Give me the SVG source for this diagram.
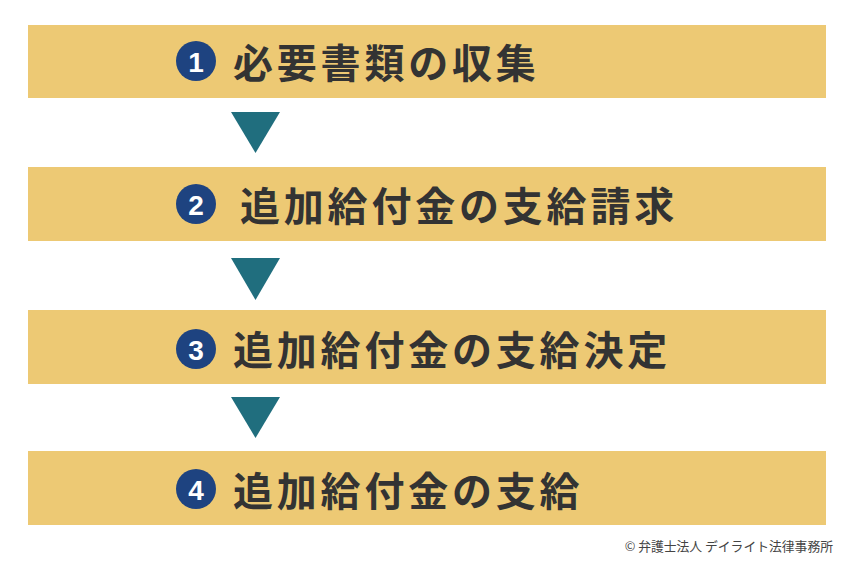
<svg xmlns="http://www.w3.org/2000/svg" width="850" height="563" viewBox="0 0 850 563">
<style>
.box{fill:#EDC974}
.num{fill:#1E4380}
.numt{fill:#fff;font-family:"Liberation Sans",Arial,sans-serif;font-weight:bold;font-size:28px;text-anchor:middle;dominant-baseline:central}
.t{fill:#333;font-family:"Noto Sans CJK JP","Noto Sans CJK SC",sans-serif;font-weight:bold;font-size:40px;letter-spacing:3.8px;dominant-baseline:central}
.arr{fill:#206E7E}
.foot{fill:#444;font-family:"Noto Sans CJK JP",sans-serif;font-size:12.8px;text-anchor:end}
</style>
<rect width="850" height="563" fill="#fff"/>
<g id="step1">
<rect class="box" x="28" y="25" width="798" height="73"/>
<circle class="num" cx="196" cy="61" r="20"/>
<text class="numt" x="196" y="62">1</text>
<text class="t" x="233" y="61">必要書類の収集</text>
</g>
<g id="step2">
<rect class="box" x="28" y="167" width="798" height="74"/>
<circle class="num" cx="196" cy="204" r="20"/>
<text class="numt" x="196" y="205">2</text>
<text class="t" x="240" y="204">追加給付金の支給請求</text>
</g>
<g id="step3">
<rect class="box" x="28" y="310" width="798" height="74"/>
<circle class="num" cx="196" cy="349" r="20"/>
<text class="numt" x="196" y="350">3</text>
<text class="t" x="233" y="348">追加給付金の支給決定</text>
</g>
<g id="step4">
<rect class="box" x="28" y="451" width="798" height="74"/>
<circle class="num" cx="196" cy="489" r="20"/>
<text class="numt" x="196" y="490">4</text>
<text class="t" x="233" y="489">追加給付金の支給</text>
</g>
<g id="connectors">
<polygon class="arr" points="231,112 280,112 255.5,153"/>
<polygon class="arr" points="231,258 280,258 255.5,300"/>
<polygon class="arr" points="231,397 280,397 255.5,438"/>
</g>
<text class="foot" x="833" y="551">© 弁護士法人 デイライト法律事務所</text>
</svg>
